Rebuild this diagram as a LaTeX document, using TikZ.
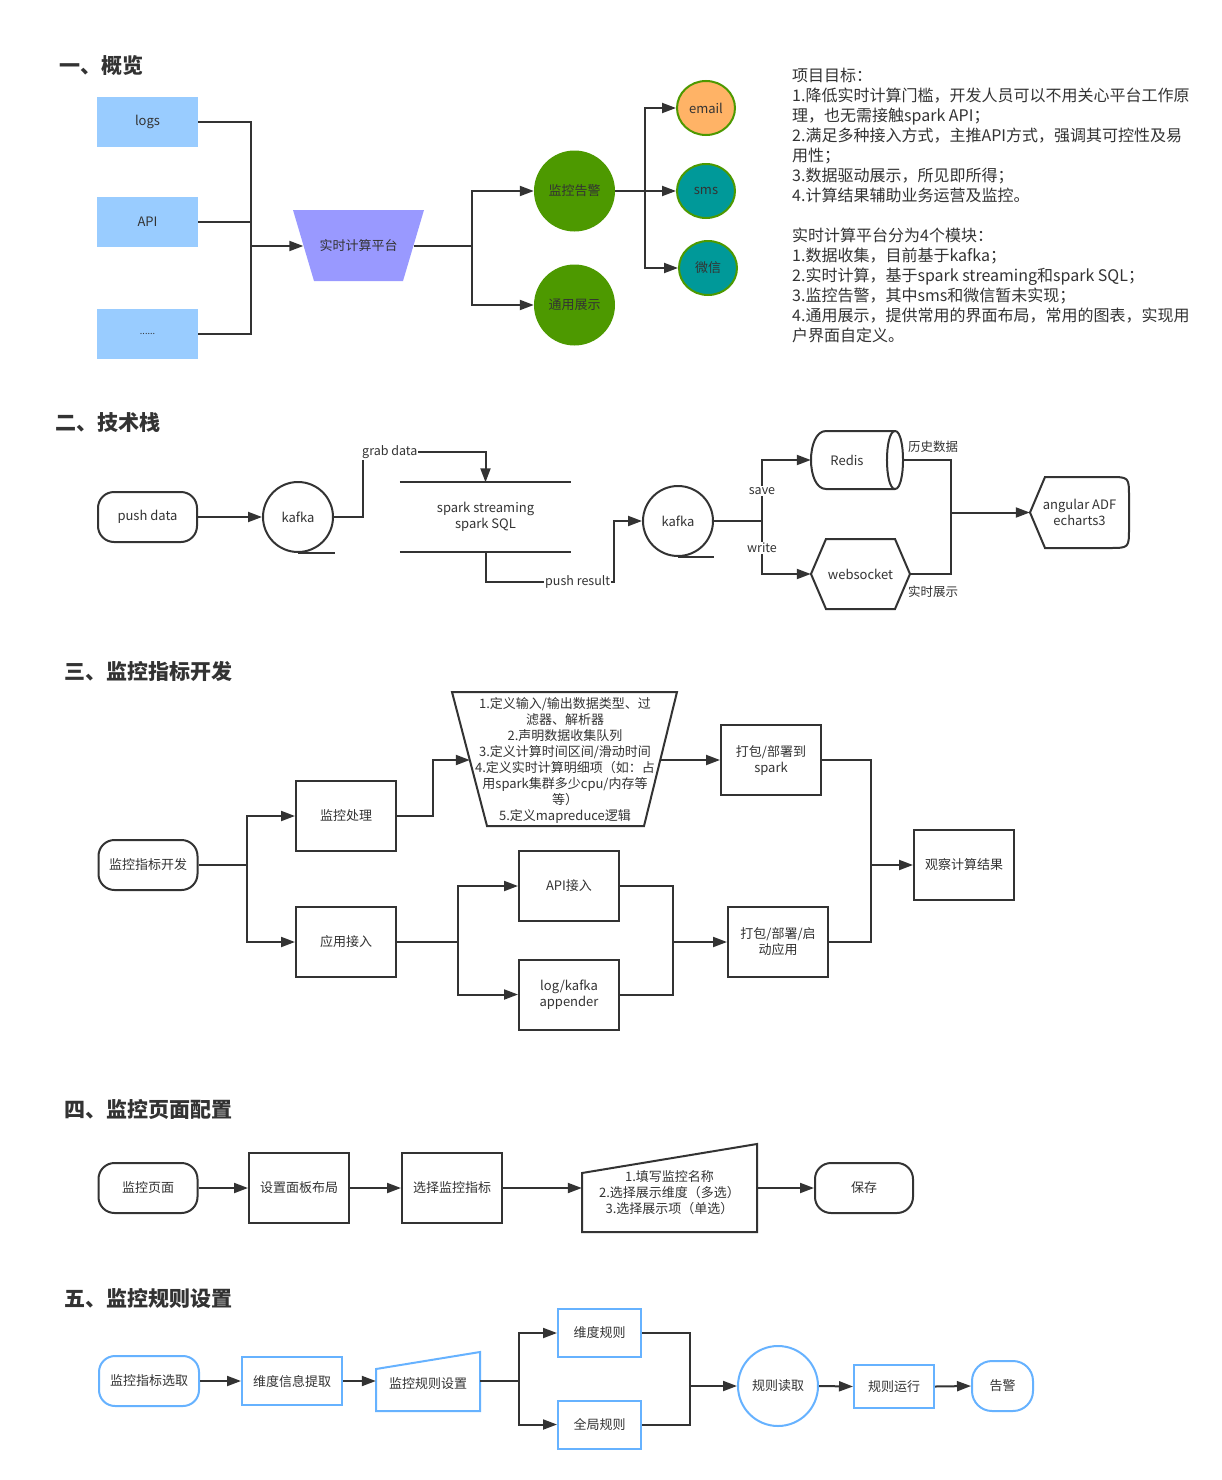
\documentclass[tikz,border=0pt]{standalone}
\usepackage{fontspec}
\setmainfont{Noto Sans CJK SC}
\usetikzlibrary{arrows.meta,shapes.geometric,calc}
\definecolor{ink}{HTML}{333333}
\definecolor{boxblue}{HTML}{99CCFF}
\definecolor{purp}{HTML}{9999FF}
\definecolor{grn}{HTML}{4D9900}
\definecolor{org}{HTML}{FFB366}
\definecolor{tealc}{HTML}{009999}
\definecolor{lblue}{HTML}{66B2FF}
\begin{document}
\begin{tikzpicture}[x=1pt,y=-1pt,
  every node/.style={text=ink, font=\fontsize{13}{16}\selectfont, inner sep=0pt, align=center},
  conn/.style={draw=ink, line width=2pt},
  arr/.style={draw=ink, line width=2pt, -{Triangle[length=14pt,width=10pt]}},
  outline/.style={draw=ink, line width=2pt, fill=white},
  title/.style={anchor=west, font=\bfseries\fontsize{21}{25}\selectfont},
  sbox/.style={fill=boxblue, minimum width=101pt, minimum height=50pt},
  rbox/.style={draw=ink, line width=2pt, rounded corners=16pt, minimum width=99pt, minimum height=50pt},
  box/.style={draw=ink, line width=2pt, minimum width=100pt, minimum height=70pt},
  ell/.style={ellipse, draw=grn, line width=2pt, minimum width=58pt, minimum height=54pt},
  gcirc/.style={circle, fill=grn, minimum size=81pt},
  kcirc/.style={circle, draw=ink, line width=2pt, minimum size=70pt},
  lab/.style={fill=white, inner sep=1pt, font=\fontsize{12.5}{15}\selectfont},
  bbox/.style={draw=lblue, line width=2pt, minimum width=100pt, minimum height=48pt},
]
\fill[white] (0,0) rectangle (1222,1480);
\useasboundingbox (0,0) rectangle (1222,1480);

% ===== Section 1 =====
\node[title] (t1) at (59,66) {一、概览};
\node[sbox] (logs) at (147.5,122) {logs};
\node[sbox] (api) at (147.5,222) {API};
\node[sbox] (etc) at (147.5,333.5) {\fontsize{9}{9}\selectfont ......};
\fill[purp] (293,210) -- (424,210) -- (403,281) -- (314,281) -- cycle;
\node[minimum width=110pt, minimum height=71pt] (plat) at (358.5,246) {实时计算平台};
\coordinate (j1) at (251,246);
\draw[conn] (logs.east) -| (j1);
\draw[conn] (api.east) -| (j1);
\draw[conn] (etc.east) -| (j1);
\draw[arr] (j1) -- (plat.west);
\node[gcirc] (alarm) at (574.5,191) {监控告警};
\node[gcirc] (show) at (574.5,305) {通用展示};
\coordinate (j2) at (472,246);
\draw[conn] (plat.east) -- (j2);
\draw[arr] (j2) |- (alarm.west);
\draw[arr] (j2) |- (show.west);
\node[ell, fill=org] (email) at (706,108) {email};
\node[ell, fill=tealc] (sms) at (706,191) {sms};
\node[ell, fill=tealc] (wx) at (708,268) {微信};
\coordinate (j3) at (645,191);
\draw[conn] (alarm.east) -- (j3);
\draw[arr] (j3) |- (email.west);
\draw[arr] (j3) -- (sms.west);
\draw[arr] (j3) |- (wx.west);
\node[anchor=north west, align=left, font=\fontsize{16}{20}\selectfont] (goals) at (792,68) {项目目标：\\
1.降低实时计算门槛，开发人员可以不用关心平台工作原\\
理，也无需接触spark API；\\
2.满足多种接入方式，主推API方式，强调其可控性及易\\
用性；\\
3.数据驱动展示，所见即所得；\\
4.计算结果辅助业务运营及监控。\\[20pt]
实时计算平台分为4个模块：\\
1.数据收集，目前基于kafka；\\
2.实时计算，基于spark streaming和spark SQL；\\
3.监控告警，其中sms和微信暂未实现；\\
4.通用展示，提供常用的界面布局，常用的图表，实现用\\
户界面自定义。};

% ===== Section 2 =====
\node[title] (t2) at (55,423) {二、技术栈};
\node[rbox] (push) at (147.5,517) {push data};
\node[kcirc] (k1) at (298,517) {kafka};
\draw[conn] (k1.south) -- ++(37,0);
\draw[arr] (push.east) -- (k1.west);
\node[minimum width=171pt, minimum height=69pt] (spark) at (485.5,517) {spark streaming\\spark SQL};
\draw[conn] (spark.north west) -- (spark.north east);
\draw[conn] (spark.south west) -- (spark.south east);
\draw[arr] (k1.east) -- (363,517) -- (363,452) -- (485.5,452) -- (spark.north);
\node[lab, anchor=west] (lgrab) at (361,452) {grab data};
\node[kcirc] (k2) at (678,521) {kafka};
\draw[conn] (k2.south) -- ++(36,0);
\draw[arr] (spark.south) -- (485.5,582) -- (614,582) -- (614,521) -- (k2.west);
\node[lab, anchor=west] (lpush) at (544,582) {push result};
% Redis cylinder
\draw[outline] (826,431) -- (895,431) .. controls (905.7,431) and (905.7,489) .. (895,489) -- (826,489) .. controls (806,489) and (806,431) .. (826,431) -- cycle;
\draw[conn] (895,431) .. controls (884.3,431) and (884.3,489) .. (895,489);
\node[minimum width=92pt, minimum height=58pt] (redis) at (857,460) {};
\node (lredis) at (847,460) {Redis};
% websocket hexagon
\draw[outline] (811,574) -- (826,539) -- (895,539) -- (910,574) -- (895,609) -- (826,609) -- cycle;
\node[minimum width=99pt, minimum height=70pt] (ws) at (860.5,574) {websocket};
\coordinate (j4) at (762,521);
\draw[conn] (k2.east) -- (j4);
\draw[arr] (j4) |- (redis.west);
\draw[arr] (j4) |- (ws.west);
\node[lab] (lsave) at (762,491) {save};
\node[lab] (lwrite) at (762,548) {write};
% angular
\draw[outline] (1045,477) -- (1030,512.5) -- (1045,548) -- (1109,548) .. controls (1129,548) and (1129,548) .. (1129,528) -- (1129,497) .. controls (1129,477) and (1129,477) .. (1109,477) -- cycle;
\node[minimum width=99pt, minimum height=71pt] (ang) at (1079.5,512.5) {angular ADF\\echarts3};
\coordinate (j5) at (951,512.5);
\draw[conn] (redis.east) -| (j5);
\draw[conn] (ws.east) -| (j5);
\draw[arr] (j5) -- (ang.west);
\node[lab, anchor=west] (lhist) at (907,447) {历史数据};
\node[lab, anchor=west] (lreal) at (907,592) {实时展示};

% ===== Section 3 =====
\node[title] (t3) at (64,671) {三、监控指标开发};
\node[rbox] (dev) at (148,865) {监控指标开发};
\node[box] (proc) at (346,816) {监控处理};
\node[box] (app) at (346,942) {应用接入};
\coordinate (j6) at (247,865);
\draw[conn] (dev.east) -- (j6);
\draw[arr] (j6) |- (proc.west);
\draw[arr] (j6) |- (app.west);
\draw[outline] (452,692) -- (677,692) -- (644,826) -- (487,826) -- cycle;
\node[minimum width=190pt, minimum height=134pt] (def) at (565,760) {1.定义输入/输出数据类型、过\\滤器、解析器\\2.声明数据收集队列\\3.定义计算时间区间/滑动时间\\4.定义实时计算明细项（如：占\\用spark集群多少cpu/内存等\\等）\\5.定义mapreduce逻辑};
\draw[arr] (proc.east) -- (433,816) |- (def.west);
\node[box] (pkg1) at (771,760) {打包/部署到\\spark};
\draw[arr] (def.east) -- (pkg1.west);
\node[box] (apiin) at (569,886) {API接入};
\node[box] (appender) at (569,994.5) {log/kafka\\appender};
\coordinate (j7) at (458,942);
\draw[conn] (app.east) -- (j7);
\draw[arr] (j7) |- (apiin.west);
\draw[arr] (j7) |- (appender.west);
\coordinate (j8) at (673,942);
\draw[conn] (apiin.east) -| (j8);
\draw[conn] (appender.east) -| (j8);
\node[box] (pkg2) at (778,942) {打包/部署/启\\动应用};
\draw[arr] (j8) -- (pkg2.west);
\coordinate (j9) at (871,865);
\draw[conn] (pkg1.east) -| (j9);
\draw[conn] (pkg2.east) -| (j9);
\node[box] (obs) at (964,865) {观察计算结果};
\draw[arr] (j9) -- (obs.west);

% ===== Section 4 =====
\node[title] (t4) at (64,1109) {四、监控页面配置};
\node[rbox] (page) at (148,1188) {监控页面};
\node[box] (layout) at (299,1188) {设置面板布局};
\node[box] (pick) at (452,1188) {选择监控指标};
\draw[outline] (582,1173) -- (757,1144) -- (757,1232) -- (582,1232) -- cycle;
\node[minimum width=175pt, minimum height=50pt] (form) at (669.5,1193) {1.填写监控名称\\2.选择展示维度（多选）\\3.选择展示项（单选）};
\node[rbox, minimum width=98pt] (save) at (864,1188) {保存};
\draw[arr] (page.east) -- (layout.west);
\draw[arr] (layout.east) -- (pick.west);
\draw[arr] (pick.east) -- (pick.east -| form.west);
\draw[arr] (form.east |- save.west) -- (save.west);

% ===== Section 5 =====
\node[title] (t5) at (64,1298) {五、监控规则设置};
\node[rbox, draw=lblue, minimum width=100pt] (sel) at (149,1381) {监控指标选取};
\node[bbox] (dim) at (292,1381) {维度信息提取};
\draw[draw=lblue, line width=2pt, fill=white] (376,1369) -- (480,1352) -- (480,1411) -- (376,1411) -- cycle;
\node[minimum width=104pt, minimum height=30pt] (rule) at (428,1384) {监控规则设置};
\draw[arr] (sel.east) -- (dim.west);
\draw[arr] (dim.east) -- (dim.east -| rule.west);
\coordinate (j10) at (519,1381);
\draw[conn] (rule.east |- j10) -- (j10);
\node[bbox, minimum width=83pt] (dr) at (599.5,1333) {维度规则};
\node[bbox, minimum width=83pt] (gr) at (599.5,1424.5) {全局规则};
\draw[arr] (j10) |- (dr.west);
\draw[arr] (j10) |- (gr.west);
\coordinate (j11) at (690,1386);
\draw[conn] (dr.east) -| (j11);
\draw[conn] (gr.east) -| (j11);
\node[circle, draw=lblue, line width=2pt, minimum size=80pt] (read) at (778,1386) {规则读取};
\draw[arr] (j11) -- (read.west);
\node[bbox, minimum width=80pt, minimum height=43pt] (run) at (894,1386.5) {规则运行};
\draw[arr] (read.east) -- (run.west);
\node[draw=lblue, line width=2pt, rounded corners=20pt, minimum width=61pt, minimum height=50pt] (alert) at (1002.5,1386) {告警};
\draw[arr] (run.east) -- (alert.west);
\end{tikzpicture}
\end{document}
